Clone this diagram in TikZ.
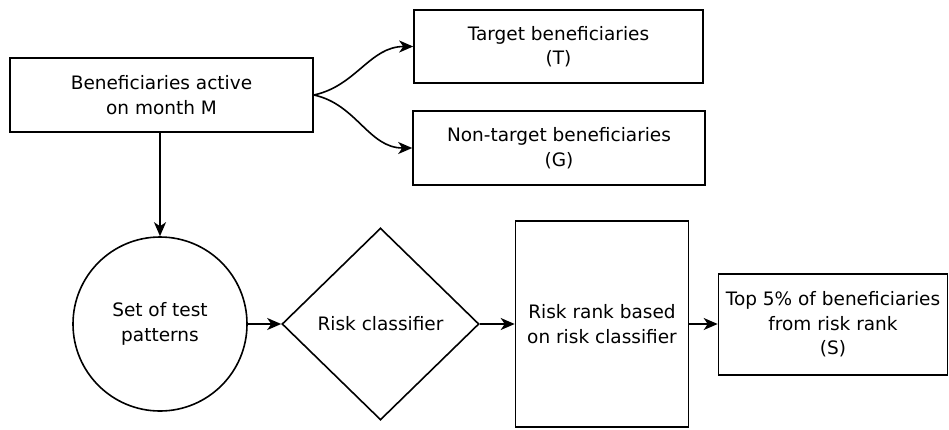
\documentclass[tikz,border=0pt]{standalone}
\usepackage{fontspec}
\setmainfont{DejaVu Sans}
\usetikzlibrary{arrows.meta, positioning, shapes.geometric}

\begin{document}
\begin{tikzpicture}[
  x=1pt, y=-1pt,
  font=\fontsize{18.5}{24.5}\selectfont,
  box/.style={draw=black, line width=1.6pt, align=center, inner sep=0pt},
  blob/.style={box, circle, minimum size=174pt},
  dec/.style={box, diamond, minimum width=197pt, minimum height=192pt,
              aspect=1},
  ar/.style={-{Stealth[length=14pt, width=12pt, inset=4pt]}, line width=1.6pt}
]
\useasboundingbox (0,0) rectangle (949,429);

% --- top: split of active beneficiaries ---
\node[box, minimum width=303pt, minimum height=74pt] (act) at (161.5,95)
  {Beneficiaries active\\ on month M};
\node[box, minimum width=289pt, minimum height=73pt] (tgt) at (558.5,46.5)
  {Target beneficiaries\\ (T)};
\node[box, minimum width=292pt, minimum height=74pt] (ntg) at (559,148)
  {Non-target beneficiaries\\ (G)};

\draw[ar] (act.east) to[out=12, in=180] (tgt.west);
\draw[ar] (act.east) to[out=-12, in=180] (ntg.west);

% --- bottom: risk pipeline ---
\node[blob] (pat) at (160,324) {Set of test\\ patterns};
\node[dec]  (cls) at (380.5,324) {Risk classifier};
\node[box, minimum width=173pt, minimum height=206pt] (rnk) at (602,324)
  {Risk rank based\\ on risk classifier};
\node[box, minimum width=229pt, minimum height=101pt] (top) at (833,324.5)
  {Top 5\% of beneficiaries\\ from risk rank\\ (S)};

\draw[ar] (act.south -| pat.north) -- (pat.north);
\draw[ar] (pat.east) -- (cls.west);
\draw[ar] (cls.east) -- (rnk.west);
\draw[ar] (rnk.east) -- (rnk.east -| top.west);
\end{tikzpicture}
\end{document}
